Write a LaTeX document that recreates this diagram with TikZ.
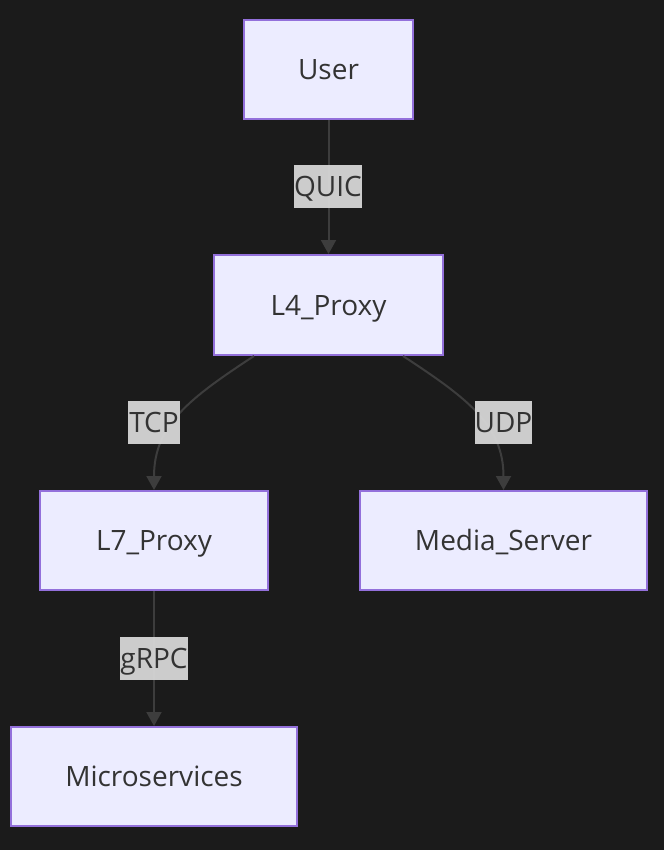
\documentclass[tikz,border=0pt]{standalone}
\usepackage{fontspec}
\setmainfont{Open Sans}
\usetikzlibrary{arrows.meta}
\definecolor{bgc}{HTML}{1B1B1B}
\definecolor{nodefill}{HTML}{ECECFF}
\definecolor{nodeborder}{HTML}{9370DB}
\definecolor{txt}{HTML}{333333}
\definecolor{edgec}{HTML}{3D3D3D}
\definecolor{lblfill}{HTML}{D6D6D6}
\tikzset{
  box/.style={draw=nodeborder, line width=2pt, fill=nodefill, text=txt, inner sep=0pt,
    text height=20.5pt, text depth=0pt,
    font=\fontsize{28}{34}\selectfont},
  lbl/.style={fill=lblfill, fill opacity=0.95, text opacity=1, text=txt, inner sep=0pt,
    text height=20.5pt, text depth=0pt,
    font=\fontsize{28}{34}\selectfont},
  edge/.style={draw=edgec, line width=2pt, -{Triangle[length=14pt,width=15pt]}},
}
\begin{document}
\begin{tikzpicture}[x=1pt,y=-1pt]
\fill[bgc] (0,0) rectangle (664,850);
\useasboundingbox (0,0) rectangle (664,850);

\node[box, minimum width=169pt, minimum height=99pt] (user) at (328.5,69.5) {User};
\node[box, minimum width=229pt, minimum height=100pt] (l4) at (328.5,305) {L4\_Proxy};
\node[box, minimum width=228pt, minimum height=99pt] (l7) at (154,540.5) {L7\_Proxy};
\node[box, minimum width=287pt, minimum height=99pt] (media) at (503.5,540.5) {Media\_Server};
\node[box, minimum width=286pt, minimum height=99pt] (micro) at (154,776.5) {Microservices};

\coordinate (l4a) at (254,356);
\coordinate (l4b) at (403,356);

\draw[edge] (user.south) -- (l4.north);
\draw[edge] (l4a) .. controls (190,398) and (154,425) .. (l7.north);
\draw[edge] (l4b) .. controls (467,398) and (503.5,425) .. (media.north);
\draw[edge] (l7.south) -- (micro.north);

\node[lbl, minimum width=64pt, minimum height=43pt] (lq) at (328,186.5) {QUIC};
\node[lbl, minimum width=52pt, minimum height=43pt] (lt) at (154,422.5) {TCP};
\node[lbl, minimum width=53pt, minimum height=43pt] (lu) at (503.5,422.5) {UDP};
\node[lbl, minimum width=65pt, minimum height=43pt] (lg) at (154,658.5) {gRPC};
\end{tikzpicture}
\end{document}
